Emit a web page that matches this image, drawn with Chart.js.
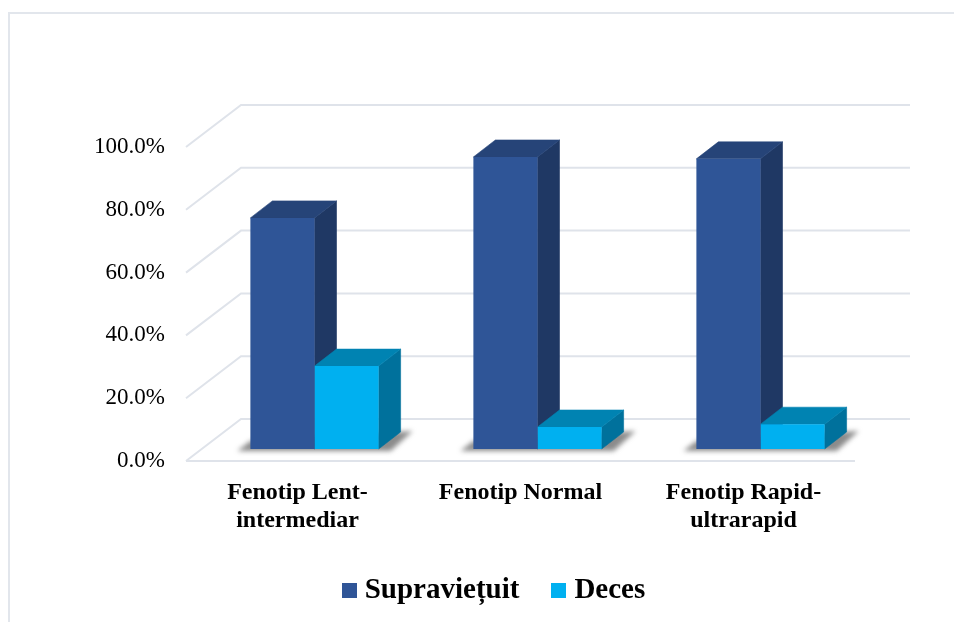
<!DOCTYPE html>
<html><head><meta charset="utf-8">
<style>
html,body{margin:0;padding:0;background:#fff;overflow:hidden}
#wrap{position:relative;width:954px;height:622px}
#frame{position:absolute;left:8px;top:12px;right:-4px;bottom:-4px;border:2px solid #E2E6EC}
canvas{position:absolute;left:0;top:0}
</style>
<script src="https://cdn.jsdelivr.net/npm/chart.js@4"></script>
</head><body>
<div id="wrap"><div id="frame"></div><canvas id="c" width="954" height="622"></canvas></div>
<script>
const categories = [["Fenotip Lent-","intermediar"],["Fenotip Normal"],["Fenotip Rapid-","ultrarapid"]];
const seriesNames = ["Supraviețuit","Deces"];
const supravietuit = [73.6,93.0,92.4];
const deces = [26.4,7.0,7.9];
const yTicks = [0,20,40,60,80,100];
const frontColors = ["#2F5597","#00B0F0"];
const topColors = ["#264478","#0083B2"];
const sideColors = ["#1F3864","#00719C"];

const barShift = {x:17,y:-12};
const depth = {x:22,y:-17};
const wall = {x:55,y:-42};

function swatch(color){
  const c=document.createElement('canvas');c.width=15;c.height=15;
  const g=c.getContext('2d');g.fillStyle=color;g.fillRect(0,0,15,15);return c;
}
function poly(ctx,pts,fill,seam){
  ctx.beginPath();pts.forEach((p,i)=>i?ctx.lineTo(p[0],p[1]):ctx.moveTo(p[0],p[1]));
  ctx.closePath();ctx.fillStyle=fill;ctx.fill();
  if(seam){ctx.strokeStyle=fill;ctx.lineWidth=0.6;ctx.stroke();}
}
const box3d = {
  id:'box3d',
  afterLayout(chart){ chart.legend.left+=69.25; chart.legend.right+=69.25; },
  beforeDatasetsDraw(chart){
    const {ctx,chartArea:a,scales:{y}}=chart;
    ctx.save();
    ctx.strokeStyle='#DFE3EA';ctx.lineWidth=2;
    yTicks.forEach(v=>{
      const py=y.getPixelForValue(v);
      ctx.beginPath();
      ctx.moveTo(a.left,py);
      ctx.lineTo(a.left+wall.x,py+wall.y);
      ctx.lineTo(a.right+wall.x,py+wall.y);
      ctx.stroke();
      if(v===0){ctx.beginPath();ctx.moveTo(a.left,py);ctx.lineTo(a.right,py);ctx.stroke();}
    });
    ctx.restore();
    const m0=chart.getDatasetMeta(0),m1=chart.getDatasetMeta(1);
    // contact shadows
    ctx.save();
    ctx.filter='blur(2.5px)';
    m0.data.forEach((b,i)=>{
      const l=b.x-b.width/2+barShift.x, r=m1.data[i].x+m1.data[i].width/2+barShift.x, base=b.base+barShift.y;
      poly(ctx,[[l-13,base+2],[l,base-8],[r+34,base-18],[r+12,base+2]],'rgba(90,90,90,.7)');
    });
    ctx.restore();
    // depth faces; the fronts are the library's own bars
    [m0,m1].forEach((m,k)=>{
      m.data.forEach(b=>{
        const l=b.x-b.width/2+barShift.x,r=b.x+b.width/2+barShift.x,t=b.y+barShift.y,bt=b.base+barShift.y;
        poly(ctx,[[r,t],[r+depth.x,t+depth.y],[r+depth.x,bt+depth.y],[r,bt]],sideColors[k],true);
        poly(ctx,[[l,t],[l+depth.x,t+depth.y],[r+depth.x,t+depth.y],[r,t]],topColors[k],true);
      });
    });
    ctx.save();
    ctx.translate(barShift.x,barShift.y);
  },
  afterDatasetsDraw(chart){ chart.ctx.restore(); }
};

new Chart(document.getElementById('c'),{
  type:'bar',
  data:{labels:categories,datasets:[
    {label:seriesNames[0],data:supravietuit,backgroundColor:frontColors[0],clip:false},
    {label:seriesNames[1],data:deces,backgroundColor:frontColors[1],clip:false}
  ]},
  plugins:[box3d],
  options:{
    responsive:false,animation:false,
    layout:{padding:{left:0,right:99,top:147,bottom:7}},
    datasets:{bar:{categoryPercentage:0.575,barPercentage:1}},
    scales:{
      x:{
        grid:{display:false},border:{display:false},
        afterFit(s){s.height=76.5;},
        ticks:{color:'#000',maxRotation:0,padding:9,font:{family:'"Liberation Serif"',size:24,weight:'bold',lineHeight:1.2}}
      },
      y:{
        min:0,max:100,
        afterFit(s){s.width=186;},
        afterBuildTicks(s){s.ticks=yTicks.map(v=>({value:v}));},
        grid:{display:false,drawTicks:false},border:{display:false},
        ticks:{color:'#000',padding:21,callback:v=>v.toFixed(1)+'%',font:{family:'"Liberation Serif"',size:23}}
      }
    },
    plugins:{
      tooltip:{enabled:false},
      legend:{
        position:'bottom',
        labels:{
          color:'#000',font:{family:'"Liberation Serif"',size:29,weight:'bold'},
          usePointStyle:true,pointStyleWidth:2,boxHeight:15,padding:38.5,
          generateLabels(chart){
            return chart.data.datasets.map((d,i)=>({text:d.label,datasetIndex:i,fontColor:'#000',
              pointStyle:swatch(frontColors[i]),fillStyle:frontColors[i],lineWidth:0,strokeStyle:'transparent'}));
          }
        }
      }
    }
  }
});
</script>
</body></html>
